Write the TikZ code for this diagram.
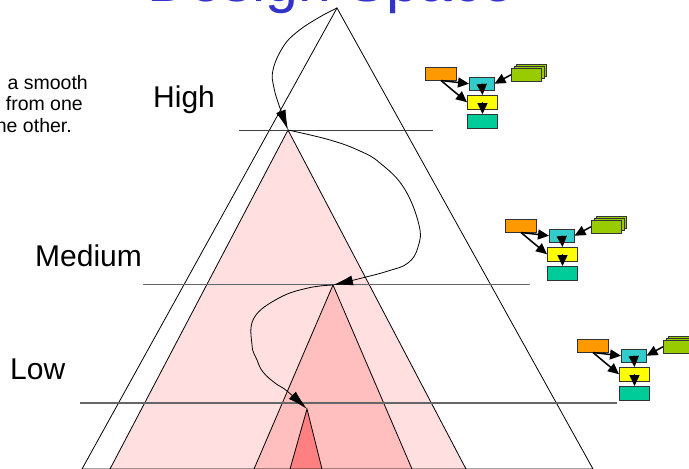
\documentclass[tikz,border=0pt]{standalone}
\usepackage{fontspec}
\setmainfont{Liberation Sans}
\usetikzlibrary{arrows.meta}

\definecolor{titleblue}{HTML}{3333CC}
\definecolor{pinklight}{HTML}{FFDFDF}
\definecolor{pinkmid}{HTML}{FFBFBF}
\definecolor{pinkdeep}{HTML}{FF8080}
\definecolor{boxorange}{HTML}{FF9900}
\definecolor{boxcyan}{HTML}{33CCCC}
\definecolor{boxlime}{HTML}{99CC00}
\definecolor{boxyellow}{HTML}{FFFF00}
\definecolor{boxteal}{HTML}{00CC99}

\begin{document}
\begin{tikzpicture}[
        x=1pt, y=-1pt,
        tri/.style={draw=black, line width=0.8pt},
        level/.style={draw=black!60, line width=1.2pt},
        curve/.style={draw, line width=0.8pt, -{Latex[length=20pt, width=10pt]}},
        lbl/.style={inner sep=0pt, anchor=base west,
          font=\fontsize{30}{36}\selectfont},
        note/.style={inner sep=0pt, anchor=base east,
          font=\fontsize{19.5}{23}\selectfont},
        cell/.style={rectangle, draw=black!80, line width=1pt, inner
          sep=0pt, minimum width=30pt, minimum height=12.5pt, anchor=north west},
        flow/.style={draw, line width=1.5pt, -{Triangle[length=11pt, width=10pt]}}
      ]
      \path[use as bounding box] (0,0) rectangle (689,469);
      \clip (0,0) rectangle (689,469);

      % Title, mostly above the page
      \node[inner sep=0pt, anchor=base west, text=titleblue,
        font=\fontsize{59}{70}\selectfont] (title) at (147,1) {Design Space};

      % Apexes of the triangles
      \coordinate (apexBig) at (337,8);
      \coordinate (apexHigh) at (288,130);
      \coordinate (apexMed) at (333,285);
      \coordinate (apexLow) at (307,409);

      % Nested triangles
      \draw[tri] (apexBig) -- (82,469) -- (593,469) -- cycle;
      \filldraw[tri, fill=pinklight] (apexHigh) -- (110,469) -- (466,469) -- cycle;
      \filldraw[tri, fill=pinkmid] (apexMed) -- (254,469) -- (412,469) -- cycle;
      \filldraw[tri, fill=pinkdeep] (apexLow) -- (290,469) -- (322,469) -- cycle;

      % Level lines and labels
      \draw[level, draw=black!75, line width=1pt] (239,130) -- (433,130);
      \draw[level, line width=1pt] (143,284) -- (530,284);
      \draw[level] (80,403) -- (617,403);
      \node[lbl] (high) at (153,107) {High};
      \node[lbl] (medium) at (35,266) {Medium};
      \node[lbl] (low) at (10,379) {Low};

      % Text cut at the left border
      \node[note] (note1) at (88,89) {a smooth};
      \node[note] (note2) at (83,110) {from one};
      \node[note] (note3) at (72,132) {he other.};

      % Path through the levels
      \path[curve] plot[smooth, tension=0.7] coordinates {(apexBig)
        (318,18) (297,32) (283,47) (273,70) (274,88) (280,108) (apexHigh)};
      \path[curve] plot[smooth, tension=0.7] coordinates {(apexHigh)
        (330,140) (360,151) (380,163) (404,188) (419,225) (418,247)
        (408,263) (388,271) (362,278) (apexMed)};
      \path[curve] plot[smooth, tension=0.7] coordinates {(apexMed)
        (308,288) (279,298) (254,318) (252,345) (257,360) (263,372)
        (275,383) (287,391) (apexLow)};

      % Small box diagrams
      \foreach \ox/\oy [count=\i] in {425/67, 505/219, 577/339} {
        \node[cell, fill=boxorange, minimum width=31pt] (src\i) at (\ox,\oy) {};
        \node[cell, fill=boxlime] (back\i) at (\ox+91,\oy-3.3) {};
        \node[cell, fill=boxlime] (mid\i) at (\ox+88.5,\oy-1.1) {};
        \node[cell, fill=boxlime] (lib\i) at (\ox+86,\oy+1) {};
        \node[cell, fill=boxcyan, minimum width=24.5pt] (core\i) at (\ox+44,\oy+10) {};
        \node[cell, fill=boxyellow, minimum height=13.5pt] (mod\i) at (\ox+42,\oy+28) {};
        \node[cell, fill=boxteal, minimum height=13.5pt] (out\i) at (\ox+42,\oy+47) {};
        \path[flow] (src\i.south) -- (core\i.west);
        \path[flow] (src\i.south) -- (mod\i.west);
        \path[flow] (lib\i.west) -- (core\i.east);
        \path[flow] (core\i.center) -- (mod\i.north);
        \path[flow] (mod\i.center) -- (out\i.north);
      }

    \end{tikzpicture}
\end{document}
